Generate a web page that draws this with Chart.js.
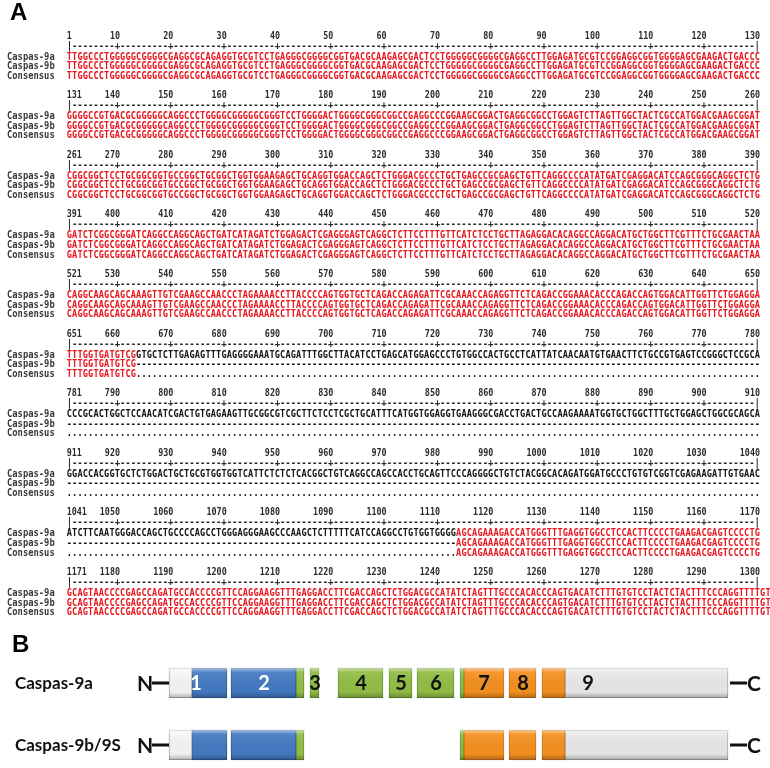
<!DOCTYPE html>
<html>
<head>
<meta charset="utf-8">
<script src="https://cdn.jsdelivr.net/npm/chart.js@4.4.1/dist/chart.umd.min.js"></script>
<style>
  html, body { margin: 0; padding: 0; background: #fff; }
  canvas { display: block; }
</style>
</head>
<body>
<canvas id="fig" width="770" height="768"></canvas>
<script>
// ---- panel A: alignment ----
const seqNames = ['Caspas-9a', 'Caspas-9b', 'Consensus'];
const blockStarts = [1, 131, 261, 391, 521, 651, 781, 911, 1041, 1171];
const seq9a = [
  'TTGGCCCTGGGGGCGGGGCGAGGCGCAGAGGTGCGTCCTGAGGGCGGGGCGGTGACGCAAGAGCGACTCCTGGGGGCGGGGCGAGGCCTTGGAGATGCGTCCGGAGGCGGTGGGGAGCGAAGACTGACCC',
  'GGGGCCGTGACGCGGGGGCAGGCCCTGGGGCGGGGGCGGGTCCTGGGGACTGGGGCGGGCGGCCGAGGCCCGGAAGCGGACTGAGGCGGCCTGGAGTCTTAGTTGGCTACTCGCCATGGACGAAGCGGAT',
  'CGGCGGCTCCTGCGGCGGTGCCGGCTGCGGCTGGTGGAAGAGCTGCAGGTGGACCAGCTCTGGGACGCCCTGCTGAGCCGCGAGCTGTTCAGGCCCCATATGATCGAGGACATCCAGCGGGCAGGCTCTG',
  'GATCTCGGCGGGATCAGGCCAGGCAGCTGATCATAGATCTGGAGACTCGAGGGAGTCAGGCTCTTCCTTTGTTCATCTCCTGCTTAGAGGACACAGGCCAGGACATGCTGGCTTCGTTTCTGCGAACTAA',
  'CAGGCAAGCAGCAAAGTTGTCGAAGCCAACCCTAGAAAACCTTACCCCAGTGGTGCTCAGACCAGAGATTCGCAAACCAGAGGTTCTCAGACCGGAAACACCCAGACCAGTGGACATTGGTTCTGGAGGA',
  'TTTGGTGATGTCGGTGCTCTTGAGAGTTTGAGGGGAAATGCAGATTTGGCTTACATCCTGAGCATGGAGCCCTGTGGCCACTGCCTCATTATCAACAATGTGAACTTCTGCCGTGAGTCCGGGCTCCGCA',
  'CCCGCACTGGCTCCAACATCGACTGTGAGAAGTTGCGGCGTCGCTTCTCCTCGCTGCATTTCATGGTGGAGGTGAAGGGCGACCTGACTGCCAAGAAAATGGTGCTGGCTTTGCTGGAGCTGGCGCAGCA',
  'GGACCACGGTGCTCTGGACTGCTGCGTGGTGGTCATTCTCTCTCACGGCTGTCAGGCCAGCCACCTGCAGTTCCCAGGGGCTGTCTACGGCACAGATGGATGCCCTGTGTCGGTCGAGAAGATTGTGAAC',
  'ATCTTCAATGGGACCAGCTGCCCCAGCCTGGGAGGGAAGCCCAAGCTCTTTTTCATCCAGGCCTGTGGTGGGGAGCAGAAAGACCATGGGTTTGAGGTGGCCTCCACTTCCCCTGAAGACGAGTCCCCTG',
  'GCAGTAACCCCGAGCCAGATGCCACCCCGTTCCAGGAAGGTTTGAGGACCTTCGACCAGCTCTGGACGCCATATCTAGTTTGCCCACACCCAGTGACATCTTTGTGTCCTACTCTACTTTCCCAGGTTTTGT'
];
// positions missing from Caspas-9b (shown as dashes)
const gap9b = [664, 1113];

// ---- panel B: exon map ----
const isoforms = ['Caspas-9a', 'Caspas-9b/9S'];
const segFrom9a = [169, 192, 231, 296, 310, 338, 389, 417, 460, 464, 509, 542, 565];
const segTo9a   = [192, 227, 296, 304, 319, 383, 412, 454, 464, 504, 536, 565, 728];
const segKind9a = ['w', 'b', 'b', 'g', 'g', 'g', 'g', 'g', 'g', 'o', 'o', 'o', 'l'];
const segFrom9b = [169, 192, 231, 296, 460, 464, 509, 542, 565];
const segTo9b   = [192, 227, 296, 304, 464, 504, 536, 565, 728];
const segKind9b = ['w', 'b', 'b', 'g', 'g', 'o', 'o', 'o', 'l'];
const exonNums  = ['1', '2', '3', '4', '5', '6', '7', '8', '9'];
const exonNumAt = [196, 264, 315, 361, 401, 436, 484, 523, 588];

const palette = {
  w: { fill: '#f5f5f5', line: '#a8a8a8' },
  b: { fill: '#4479c2', line: '#2c5a98' },
  g: { fill: '#92bd45', line: '#6a9130' },
  o: { fill: '#f5901f', line: '#c8701a' },
  l: { fill: '#e8e8e8', line: '#a3a3a3' }
};

function buildData(kind) {
  const out = [];
  segKind9a.forEach((k, i) => { if (k === kind) out.push({ x: [segFrom9a[i], segTo9a[i]], y: isoforms[0] }); });
  segKind9b.forEach((k, i) => { if (k === kind) out.push({ x: [segFrom9b[i], segTo9b[i]], y: isoforms[1] }); });
  return out;
}

const X0 = 66.7, CW = 5.333;
const ROW_STEP = 59.6;

function colX(c) { return X0 + (c - 0.5) * CW; }

// squeezed text, the alignment font is narrow
function txt(ctx, s, x, y, align, sx) {
  ctx.save();
  ctx.translate(x, y);
  ctx.scale(sx, 1);
  ctx.textAlign = align;
  ctx.fillText(s, 0, 0);
  ctx.restore();
}

const alignmentPlugin = {
  id: 'alignment',
  beforeDraw(chart) {
    const ctx = chart.ctx;
    ctx.save();
    ctx.fillStyle = '#000';
    ctx.font = 'bold 24px "Liberation Sans", Arial, sans-serif';
    ctx.textBaseline = 'alphabetic';
    ctx.fillText('A', 10, 20);
    ctx.fillText('B', 12, 652);

    ctx.textBaseline = 'middle';
    const mono = 'bold 10px "DejaVu Sans Mono", monospace';
    blockStarts.forEach((start, k) => {
      const y0 = 36 + k * ROW_STEP;
      ctx.font = mono;
      // position numbers
      ctx.fillStyle = '#2a2a2a';
      txt(ctx, String(start), X0, y0, 'left', 0.84);
      for (let c = 1; c <= 130; c++) {
        const n = start + c - 1;
        if (n % 10 === 0 && c > 4) txt(ctx, String(n), X0 + c * CW, y0, 'right', 0.84);
      }
      // ruler
      for (let c = 1; c <= 130; c++) {
        const n = start + c - 1;
        const ch = (c === 1 || c === 130) ? '|' : (n % 10 === 0 ? '+' : '-');
        txt(ctx, ch, colX(c), y0 + 10, 'center', 0.9);
      }
      // names
      seqNames.forEach((nm, r) => {
        ctx.fillStyle = '#3a3a3a';
        txt(ctx, nm, 7, y0 + 21 + r * 9.6, 'left', 0.88);
      });
      // sequences
      const s = seq9a[k];
      for (let c = 1; c <= s.length; c++) {
        const n = start + c - 1;
        const inGap = n >= gap9b[0] && n <= gap9b[1];
        const base = s[c - 1];
        const x = colX(c);
        ctx.fillStyle = inGap ? '#111' : '#e8141c';
        txt(ctx, base, x, y0 + 21, 'center', 0.86);
        txt(ctx, inGap ? '-' : base, x, y0 + 21 + 9.6, 'center', 0.86);
        txt(ctx, inGap ? '.' : base, x, y0 + 21 + 19.2, 'center', 0.86);
      }
    });
    ctx.restore();
  },
  afterDatasetsDraw(chart) {
    const ctx = chart.ctx;
    const xs = chart.scales.x, ys = chart.scales.y;
    ctx.save();
    // bevel shading over each box
    chart.data.datasets.forEach((ds, di) => {
      chart.getDatasetMeta(di).data.forEach(bar => {
        const { x, y, base, height } = bar.getProps(['x', 'y', 'base', 'height'], true);
        const l = Math.min(x, base), w = Math.abs(x - base), t = y - height / 2;
        const g = ctx.createLinearGradient(0, t, 0, t + height);
        g.addColorStop(0, 'rgba(255,255,255,0.55)');
        g.addColorStop(0.14, 'rgba(255,255,255,0.08)');
        g.addColorStop(0.8, 'rgba(0,0,0,0.02)');
        g.addColorStop(1, 'rgba(0,0,0,0.28)');
        ctx.fillStyle = g;
        ctx.fillRect(l, t, w, height);
      });
    });
    ctx.textBaseline = 'middle';
    isoforms.forEach((nm, i) => {
      const y = ys.getPixelForValue(i);
      ctx.fillStyle = '#111';
      ctx.textAlign = 'left';
      ctx.font = 'bold 17px Lato, sans-serif';
      ctx.fillText(nm, 15, y + 1);
      ctx.font = 'bold 21px Lato, sans-serif';
      ctx.fillText('N', 137, y + 1);
      ctx.fillText('C', 747, y + 1);
      ctx.fillRect(152, y - 1.5, 17, 3);
      ctx.fillRect(730, y - 1.5, 17, 3);
    });
    const y = ys.getPixelForValue(0);
    ctx.font = 'bold 20px Lato, sans-serif';
    ctx.textAlign = 'center';
    exonNums.forEach((t, i) => {
      ctx.fillStyle = i < 2 ? '#fff' : '#111';
      ctx.fillText(t, xs.getPixelForValue(exonNumAt[i]), y + 1);
    });
    ctx.restore();
  }
};

const kinds = ['w', 'b', 'g', 'o', 'l'];
new Chart(document.getElementById('fig'), {
  type: 'bar',
  data: {
    labels: isoforms,
    datasets: kinds.map(k => ({
      label: k,
      data: buildData(k),
      backgroundColor: palette[k].fill,
      borderColor: palette[k].line,
      borderWidth: 1,
      borderSkipped: false,
      barThickness: 30,
      grouped: false,
      clip: false
    }))
  },
  options: {
    indexAxis: 'y',
    responsive: false,
    animation: false,
    events: [],
    layout: { padding: { top: 683, bottom: 23, left: 0, right: 0 } },
    scales: {
      x: { type: 'linear', min: 0, max: 770, display: false },
      y: { type: 'category', offset: false, display: false }
    },
    plugins: {
      legend: { display: false },
      tooltip: { enabled: false }
    }
  },
  plugins: [alignmentPlugin]
});
</script>
</body>
</html>
